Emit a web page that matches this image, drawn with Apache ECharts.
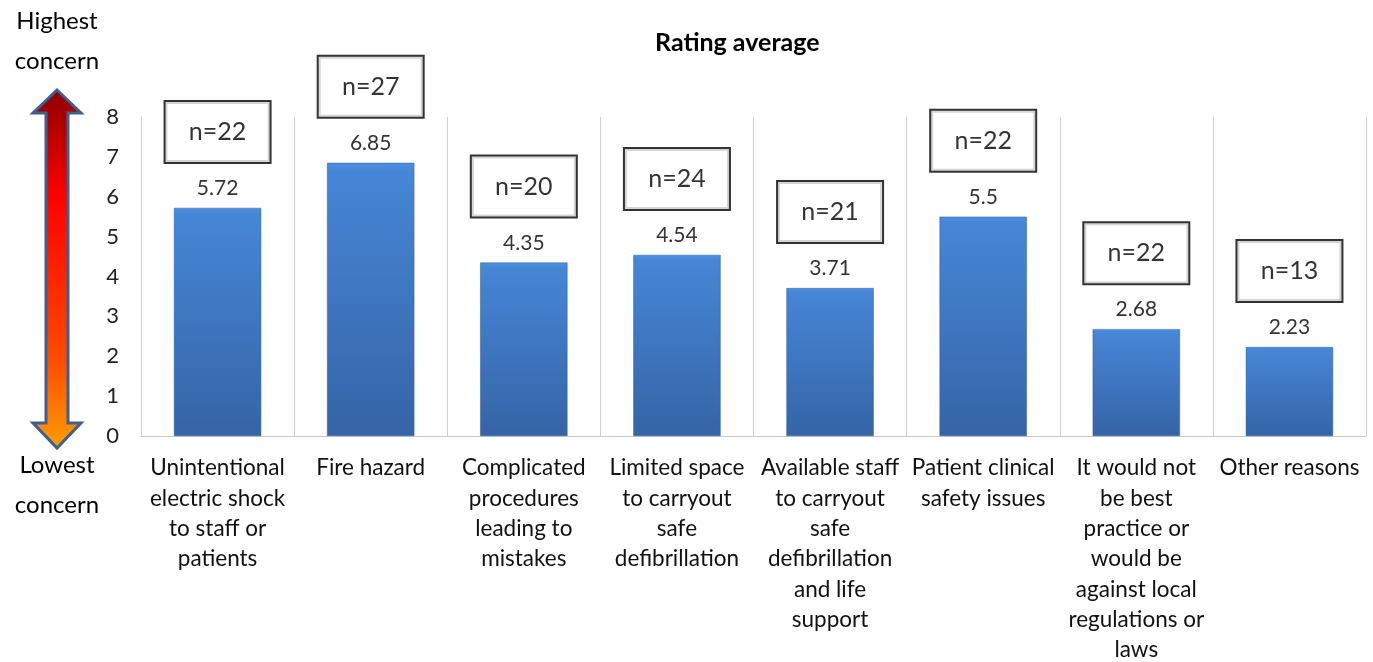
<!DOCTYPE html>
<html>
<head>
<meta charset="utf-8">
<script src="https://cdn.jsdelivr.net/npm/echarts@6/dist/echarts.min.js"></script>
<style>
  html, body { margin: 0; padding: 0; background: #fff; }
  #chart { width: 1373px; height: 662px; }
</style>
</head>
<body>
<div id="chart"></div>
<script>
var categories = [
  'Unintentional\nelectric shock\nto staff or\npatients',
  'Fire hazard',
  'Complicated\nprocedures\nleading to\nmistakes',
  'Limited space\nto carryout\nsafe\ndefibrillation',
  'Available staff\nto carryout\nsafe\ndefibrillation\nand life\nsupport',
  'Patient clinical\nsafety issues',
  'It would not\nbe best\npractice or\nwould be\nagainst local\nregulations or\nlaws',
  'Other reasons'
];
var ratingAvg = [5.72, 6.85, 4.35, 4.54, 3.71, 5.5, 2.68, 2.23];
var nCounts = [22, 27, 20, 24, 21, 22, 22, 13];
var yTicks = [0, 1, 2, 3, 4, 5, 6, 7, 8];

var font = 'Lato, "Open Sans", sans-serif';

// double headed arrow on the left
var ax = 57;
var arrowPts = [
  [ax, 90], [ax + 24, 113], [ax + 11, 113], [ax + 11, 423], [ax + 24, 423],
  [ax, 448], [ax - 24, 423], [ax - 11, 423], [ax - 11, 113], [ax - 24, 113]
];

var myChart = echarts.init(document.getElementById('chart'));
var option = {
  backgroundColor: '#fff',
  animation: false,
  title: {
    text: 'Rating average',
    left: 650,
    top: 25,
    textStyle: { fontFamily: font, fontSize: 25, fontWeight: 'bold', color: '#000' }
  },
  grid: { left: 141, right: 7, top: 117, bottom: 226, containLabel: false, outerBoundsMode: 'none' },
  xAxis: {
    type: 'category',
    data: categories,
    axisLine: { show: true, lineStyle: { color: '#c8c8c8', width: 1 } },
    axisTick: { show: false },
    splitLine: { show: true, lineStyle: { color: '#d0d0d0', width: 1 } },
    axisLabel: {
      interval: 0,
      margin: 17,
      fontFamily: font,
      fontSize: 22.5,
      lineHeight: 30.3,
      color: '#111',
      align: 'center'
    }
  },
  yAxis: {
    type: 'value',
    min: 0,
    max: 8,
    interval: 1,
    axisLine: { show: true, lineStyle: { color: '#d0d0d0' } },
    axisTick: { show: false },
    splitLine: { show: false },
    axisLabel: {
      margin: 22,
      fontFamily: font,
      fontSize: 22,
      color: '#222',
      formatter: function (v) { return yTicks.indexOf(v) >= 0 ? String(v) : ''; }
    }
  },
  series: [
    {
      type: 'scatter',
      data: ratingAvg,
      symbolSize: 0,
      silent: true,
      clip: false,
      z: 1,
      label: {
        show: true,
        position: 'top',
        distance: 76,
        formatter: function (p) { return 'n=' + nCounts[p.dataIndex]; },
        fontFamily: font,
        fontSize: 25,
        color: '#000',
        backgroundColor: '#fff',
        borderColor: '#000',
        borderWidth: 2,
        width: 104,
        height: 60,
        lineHeight: 60,
        align: 'center',
        verticalAlign: 'middle'
      }
    },
    {
      type: 'bar',
      data: ratingAvg,
      barWidth: '57%',
      z: 3,
      itemStyle: {
        color: new echarts.graphic.LinearGradient(0, 0, 0, 1, [
          { offset: 0, color: '#4d8fdf' },
          { offset: 0.03, color: '#4686d6' },
          { offset: 1, color: '#3564a6' }
        ]),
        borderColor: '#2f5c99',
        borderWidth: 0.5
      },
      label: {
        show: true,
        position: 'top',
        distance: 9,
        fontFamily: font,
        fontSize: 21,
        color: '#333'
      }
    }
  ],
  graphic: [
    {
      type: 'polygon',
      shape: { points: arrowPts },
      style: {
        fill: new echarts.graphic.LinearGradient(0, 0, 0, 1, [
          { offset: 0, color: '#8a0000' },
          { offset: 0.3, color: '#ff0000' },
          { offset: 0.75, color: '#ff4a00' },
          { offset: 1, color: '#ffa000' }
        ]),
        stroke: '#3e5f8f',
        lineWidth: 3
      }
    },
    {
      type: 'text',
      style: { text: 'Highest\nconcern', x: 57, y: 1, align: 'center', font: '24px ' + font, lineHeight: 40, fill: '#000' }
    },
    {
      type: 'text',
      style: { text: 'Lowest\nconcern', x: 57, y: 445, align: 'center', font: '24px ' + font, lineHeight: 40, fill: '#000' }
    }
  ]
};
myChart.setOption(option);
</script>
</body>
</html>
